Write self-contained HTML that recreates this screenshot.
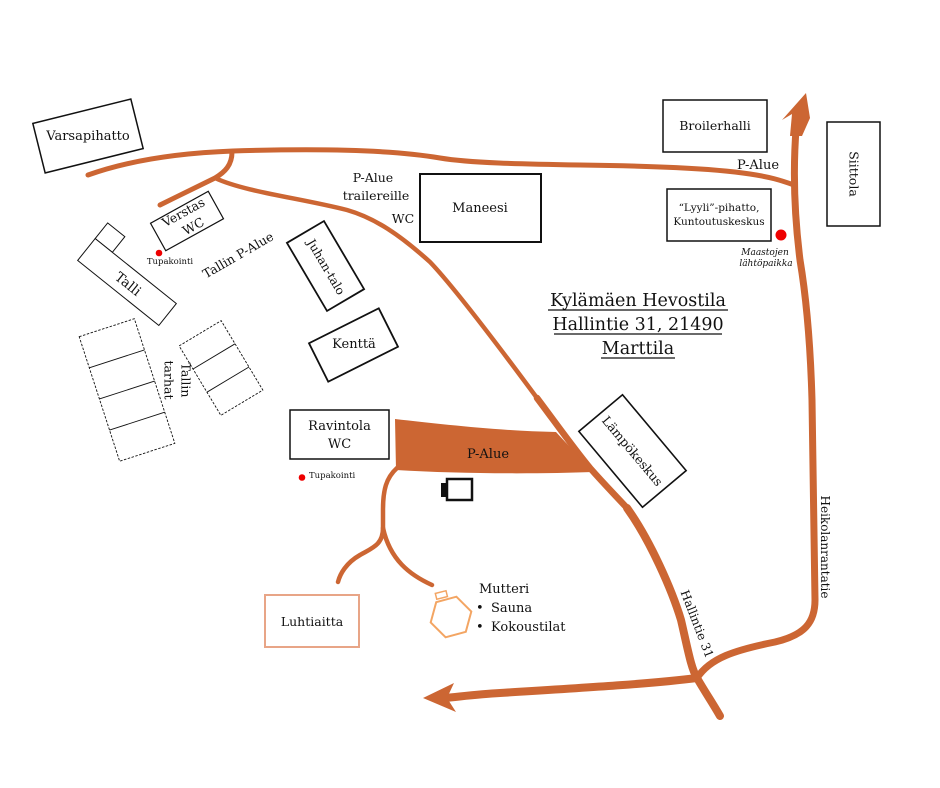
<!DOCTYPE html>
<html><head><meta charset="utf-8"><style>
html,body{margin:0;padding:0;background:#fff;}
svg{display:block;}
text{font-family:"DejaVu Serif","Liberation Serif",serif;fill:#111;}
</style></head><body>
<svg width="940" height="788" viewBox="0 0 940 788" xmlns="http://www.w3.org/2000/svg">
<rect width="940" height="788" fill="#fff"/>
<g fill="none" stroke="#cc6633" stroke-linecap="round" stroke-linejoin="round">
  <path d="M88,175 C130,160 180,153 233,151 C330,148 400,151 440,158 C470,163 520,164 580,165 C650,166 710,168 750,174 C770,177 780,180 794,185" stroke-width="5"/>
  <path d="M232,152 C232,165 225,172 215,178 C195,188 178,196 160,205" stroke-width="5"/>
  <path d="M215,178 C245,192 300,198 347,210 C375,218 400,235 430,262 C455,288 500,348 537,398" stroke-width="4.5"/>
  <path d="M537,398 C555,422 575,450 590,468 C605,485 615,495 627,508" stroke-width="6.5"/>
  <path d="M627,508 C650,540 672,590 681,620 C688,650 691,668 697,678 C705,692 712,702 720,716" stroke-width="8"/>
  <path d="M697,678 C710,658 735,650 775,642 C805,635 815,622 815,600 L812,400 C810,330 805,290 800,260 C795,220 792,170 797,118" stroke-width="7"/>
  <path d="M697,678 C650,684 580,688 500,693 C480,694 465,696 445,698" stroke-width="8"/>
  <path d="M397,468 C386,478 383,490 383,510 L383,528 C383,545 372,548 360,555 C346,563 340,574 338,582" stroke-width="4.5"/>
  <path d="M383,528 C390,560 410,575 432,585" stroke-width="4.5"/>
</g>
<polygon points="806,93 782,120 792,114 790,136 802,136 810,118" fill="#cc6633"/>
<polygon points="423,698 454,683 447,698 456,712" fill="#cc6633"/>
<path d="M395,419 C440,424 500,431 556,432 L593,472 C540,474 460,474 396,470 Z" fill="#cc6633"/>

<g fill="#fff" stroke="#111">
  <rect x="-50.5" y="-25.5" width="101" height="51" transform="translate(88,136) rotate(-14)" stroke-width="1.5"/>
  <rect x="-33" y="-15.7" width="66" height="31.4" transform="translate(187,221) rotate(-29)" stroke-width="1.2"/>
  <g transform="translate(127,282) rotate(38.7)" stroke-width="1">
    <rect x="-52" y="-34" width="22" height="20"/>
    <rect x="-52" y="-14" width="104" height="28"/>
  </g>
  <g transform="translate(127,390) rotate(-18)" stroke-width="0.9">
    <rect x="-29" y="-65.5" width="58" height="131" stroke-dasharray="2.5 1.5"/>
    <line x1="-29" y1="-32.75" x2="29" y2="-32.75"/>
    <line x1="-29" y1="0" x2="29" y2="0"/>
    <line x1="-29" y1="32.75" x2="29" y2="32.75"/>
  </g>
  <g transform="translate(221,368) rotate(-31)" stroke-width="0.9">
    <rect x="-24.5" y="-40.5" width="49" height="81" stroke-dasharray="2.5 1.5"/>
    <line x1="-24.5" y1="-13.5" x2="24.5" y2="-13.5"/>
    <line x1="-24.5" y1="13.5" x2="24.5" y2="13.5"/>
  </g>
  <rect x="-39.5" y="-21.5" width="79" height="43" transform="translate(325.5,266) rotate(59.5)" stroke-width="1.8"/>
  <rect x="-39" y="-21.5" width="78" height="43" transform="translate(353.5,345) rotate(-26.6)" stroke-width="1.8"/>
  <rect x="420" y="174" width="121" height="68" stroke-width="2"/>
  <rect x="290" y="410" width="99" height="49" stroke-width="1.5"/>
  <rect x="-49.5" y="-28.5" width="99" height="57" transform="translate(632.5,451) rotate(50)" stroke-width="1.6"/>
  <rect x="663" y="100" width="104" height="52" stroke-width="1.5"/>
  <rect x="667" y="189" width="104" height="52" stroke-width="1.5"/>
  <rect x="827" y="122" width="53" height="104" stroke-width="1.5"/>
</g>
<rect x="265" y="595" width="94" height="52" fill="#fff" stroke="#e8a587" stroke-width="2"/>
<polygon points="465.8,631.8 445.6,637.3 430.7,622.4 436.2,602.2 456.4,596.7 471.3,611.6" fill="none" stroke="#f3a563" stroke-width="2"/>
<rect x="-5.5" y="-3.5" width="11" height="6" transform="translate(441.5,595.5) rotate(-14)" fill="#fff" stroke="#f3a563" stroke-width="1.5"/>
<rect x="441" y="483" width="8" height="14" fill="#111"/>
<rect x="447" y="479" width="25" height="21" fill="#fff" stroke="#111" stroke-width="2.5"/>
<circle cx="159" cy="253" r="3.3" fill="#e00"/>
<circle cx="302" cy="477.5" r="3.3" fill="#e00"/>
<circle cx="781" cy="235" r="5.5" fill="#e00"/>

<text x="88" y="140" font-size="13" text-anchor="middle">Varsapihatto</text>
<g transform="translate(187,221) rotate(-29)" font-size="12.5" text-anchor="middle">
  <text x="1" y="-5">Verstas</text>
  <text x="3" y="12">WC</text>
</g>
<text x="170" y="264" font-size="8.5" text-anchor="middle">Tupakointi</text>
<text transform="translate(238,255) rotate(-30)" x="0" y="4.5" font-size="12.5" text-anchor="middle">Tallin P-Alue</text>
<text transform="translate(128,284) rotate(38.7)" x="0" y="4.5" font-size="13.5" text-anchor="middle">Talli</text>
<g transform="translate(177,380) rotate(90)" font-size="12.5" text-anchor="middle">
  <text x="0" y="-4.5">Tallin</text>
  <text x="0" y="12.5">tarhat</text>
</g>
<text transform="translate(326,267) rotate(59.5)" x="0" y="4" font-size="12" text-anchor="middle">Juhan-talo</text>
<text x="354" y="348" font-size="13" text-anchor="middle">Kenttä</text>
<text x="373" y="182" font-size="12.5" text-anchor="middle">P-Alue</text>
<text x="376" y="200" font-size="12.5" text-anchor="middle">trailereille</text>
<text x="403" y="223" font-size="12.5" text-anchor="middle">WC</text>
<text x="480" y="212" font-size="13" text-anchor="middle">Maneesi</text>
<text x="339.5" y="430" font-size="13" text-anchor="middle">Ravintola</text>
<text x="339.5" y="448" font-size="13" text-anchor="middle">WC</text>
<text x="309" y="478" font-size="8.5">Tupakointi</text>
<text x="488" y="458" font-size="13" text-anchor="middle">P-Alue</text>
<text x="312" y="626" font-size="12.5" text-anchor="middle">Luhtiaitta</text>
<text x="479" y="593" font-size="13">Mutteri</text>
<text x="476" y="612" font-size="13">•</text>
<text x="491" y="612" font-size="13">Sauna</text>
<text x="476" y="631" font-size="13">•</text>
<text x="491" y="631" font-size="13">Kokoustilat</text>
<text transform="translate(632.5,451) rotate(50)" x="0" y="4.5" font-size="12.5" text-anchor="middle">Lämpökeskus</text>
<text transform="translate(697,624) rotate(69)" x="0" y="4" font-size="12" text-anchor="middle">Hallintie 31</text>
<text transform="translate(825,547) rotate(90)" x="0" y="4" font-size="12" text-anchor="middle">Heikolanrantatie</text>
<text transform="translate(854,174) rotate(90)" x="0" y="4.5" font-size="12.5" text-anchor="middle">Siittola</text>
<text x="715" y="130" font-size="12.5" text-anchor="middle">Broilerhalli</text>
<text x="758" y="169" font-size="13" text-anchor="middle">P-Alue</text>
<text x="719" y="211" font-size="10.5" text-anchor="middle">“Lyyli”-pihatto,</text>
<text x="719" y="225" font-size="10.5" text-anchor="middle">Kuntoutuskeskus</text>
<text x="765" y="255" font-size="9" font-style="italic" text-anchor="middle">Maastojen</text>
<text x="766" y="266" font-size="9" font-style="italic" text-anchor="middle">lähtöpaikka</text>

<text x="638" y="306" font-size="17.5" text-anchor="middle">Kylämäen Hevostila</text>
<text x="638" y="330" font-size="17.5" text-anchor="middle">Hallintie 31, 21490</text>
<text x="638" y="354" font-size="17.5" text-anchor="middle">Marttila</text>
<g stroke="#111" stroke-width="1.2">
  <line x1="548" y1="310" x2="728" y2="310"/>
  <line x1="554" y1="334" x2="722" y2="334"/>
  <line x1="601" y1="358" x2="675" y2="358"/>
</g>
</svg>
</body></html>
